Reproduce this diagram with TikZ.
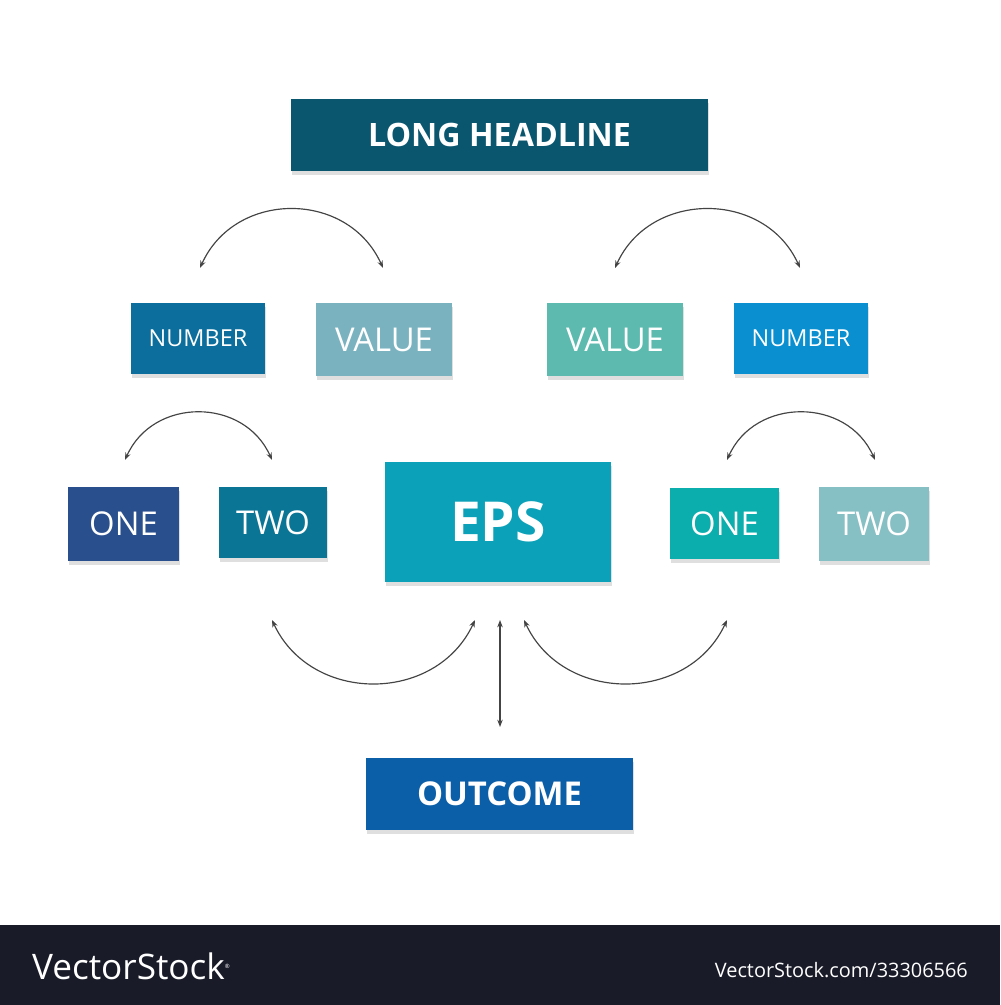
\documentclass[tikz,border=0pt]{standalone}
\usepackage{fontspec}
\setmainfont{Open Sans}
\usetikzlibrary{arrows.meta,shadows}
\definecolor{cHead}{HTML}{0B566F}
\definecolor{cNumL}{HTML}{0B6E9C}
\definecolor{cValL}{HTML}{7AB3BF}
\definecolor{cValR}{HTML}{5CBAAF}
\definecolor{cNumR}{HTML}{0A8FD1}
\definecolor{cOneL}{HTML}{2A4F8D}
\definecolor{cTwoL}{HTML}{0B7596}
\definecolor{cEps}{HTML}{0BA1B8}
\definecolor{cOneR}{HTML}{0BAEAD}
\definecolor{cTwoR}{HTML}{86BFC4}
\definecolor{cOut}{HTML}{0B5FA8}
\definecolor{cBar}{HTML}{191B28}
\definecolor{cArc}{HTML}{444444}
\tikzset{
  box/.style={inner sep=0pt, text=white, font=\fontsize{20}{24}\selectfont,
    drop shadow={shadow xshift=0.4mm, shadow yshift=-1.2mm, opacity=0.25}},
  arc/.style={draw=cArc, line width=0.35mm, {Stealth[length=2.2mm]}-{Stealth[length=2.2mm]}}
}
\begin{document}
\begin{tikzpicture}[x=0.3mm, y=-0.3mm]
  \useasboundingbox (0,0) rectangle (1000,1005);
  \fill[white] (0,0) rectangle (1000,1005);
  % boxes
  \node[box, fill=cHead, minimum width=12.51cm, minimum height=2.16cm, font=\fontsize{27.5}{32}\selectfont\bfseries] (head) at (499.5,135) {LONG HEADLINE};
  \node[box, fill=cNumL, minimum width=4.02cm, minimum height=2.13cm] (numl) at (198,338.5) {NUMBER};
  \node[box, fill=cValL, minimum width=4.08cm, minimum height=2.19cm, font=\fontsize{28}{32}\selectfont] (vall) at (384,339.5) {VALUE};
  \node[box, fill=cValR, minimum width=4.08cm, minimum height=2.19cm, font=\fontsize{28}{32}\selectfont] (valr) at (615,339.5) {VALUE};
  \node[box, fill=cNumR, minimum width=4.02cm, minimum height=2.13cm] (numr) at (801,338.5) {NUMBER};
  \node[box, fill=cOneL, minimum width=3.33cm, minimum height=2.22cm, font=\fontsize{28}{32}\selectfont] (onel) at (123.5,524) {ONE};
  \node[box, fill=cTwoL, minimum width=3.24cm, minimum height=2.13cm, font=\fontsize{28}{32}\selectfont] (twol) at (273,522.5) {TWO};
  \node[box, fill=cEps, minimum width=6.78cm, minimum height=3.6cm, font=\fontsize{47}{54}\selectfont\bfseries] (eps) at (498,522) {EPS};
  \node[box, fill=cOneR, minimum width=3.27cm, minimum height=2.13cm, font=\fontsize{28}{32}\selectfont] (oner) at (724.5,523.5) {ONE};
  \node[box, fill=cTwoR, minimum width=3.3cm, minimum height=2.22cm, font=\fontsize{28}{32}\selectfont] (twor) at (874,524) {TWO};
  \node[box, fill=cOut, minimum width=8.01cm, minimum height=2.16cm, font=\fontsize{28}{32}\selectfont\bfseries] (out) at (499.5,794) {OUTCOME};
  % arc ends
  \coordinate (a1) at (200,268); \coordinate (a2) at (383,268);
  \coordinate (b1) at (615,268); \coordinate (b2) at (800,268);
  \coordinate (c1) at (125,460); \coordinate (c2) at (272,460);
  \coordinate (d1) at (727,460); \coordinate (d2) at (875,460);
  \coordinate (e1) at (272,620); \coordinate (e2) at (475,620);
  \coordinate (f1) at (524,620); \coordinate (f2) at (727,620);
  \coordinate (g1) at (500,620); \coordinate (g2) at (500,727);
  % arcs
  \draw[arc] (a1) .. controls (235,190) and (348,190) .. (a2);
  \draw[arc] (b1) .. controls (650,190) and (765,190) .. (b2);
  \draw[arc] (c1) .. controls (153,397) and (244,397) .. (c2);
  \draw[arc] (d1) .. controls (755,397) and (847,397) .. (d2);
  \draw[arc] (e1) .. controls (311,704) and (436,704) .. (e2);
  \draw[arc] (f1) .. controls (563,704) and (688,704) .. (f2);
  \draw[arc] (g1) -- (g2);
  % footer
  \fill[cBar] (0,925) rectangle (1000,1005);
  \node[text=white, anchor=west, font=\fontsize{30}{34}\selectfont] (brand) at (28,966) {VectorStock\textsuperscript{\tiny\textregistered}};
  \node[text=white, anchor=east, font=\fontsize{17}{20}\selectfont] (ref) at (972,970) {VectorStock.com/33306566};
\end{tikzpicture}
\end{document}
